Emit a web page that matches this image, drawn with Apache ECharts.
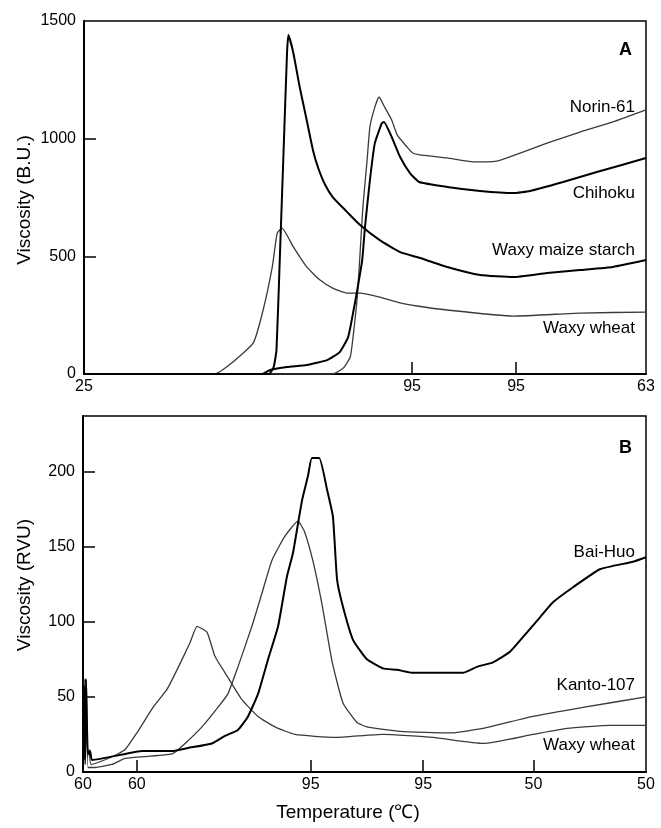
<!DOCTYPE html>
<html>
<head>
<meta charset="utf-8">
<script src="https://cdn.jsdelivr.net/npm/echarts@6/dist/echarts.min.js"></script>
<style>
html,body{margin:0;padding:0;background:#fff;}
#chart{width:661px;height:828px;}
</style>
</head>
<body>
<div id="chart"></div>
<script>
// ---------- Panel A (Brabender, time in min) ----------
const xTickPosA = [0, 46.7, 61.5, 80];
const xTickLabA = ['25', '95', '95', '63'];
const yTickA = [0, 500, 1000, 1500];

const waxyMaizeA = [[0,0],[26.3,0],[27.0,30],[27.4,102],[27.9,514],[28.4,939],[28.9,1364],[29.1,1440],[29.8,1364],[30.7,1220],[31.7,1079],[32.6,950],[33.4,870],[34.3,805],[35.4,752],[37.4,690],[39.3,633],[42.1,569],[45.0,518],[47.4,497],[51.7,455],[56.4,421],[61.1,412],[65.9,429],[70.6,442],[75.3,455],[80,484]];
const waxyWheatA = [[0,0],[18.6,0],[21.2,51],[24.1,132],[25.5,272],[26.8,455],[27.5,599],[28.2,620],[29.8,540],[31.7,455],[33.6,399],[35.4,365],[37.4,344],[39.3,344],[42.1,327],[45.0,302],[47.4,289],[51.7,272],[61.1,246],[70.6,259],[80,263]];
const norin61A = [[0,0],[35.4,0],[36.9,25],[37.9,72],[38.3,157],[38.9,327],[39.3,514],[39.7,710],[40.3,909],[40.7,1050],[41.4,1134],[42.0,1177],[42.8,1134],[43.8,1079],[44.6,1015],[46.0,964],[46.8,939],[47.8,931],[51.7,918],[55.4,901],[58.8,905],[60.2,918],[65.9,981],[70.6,1028],[75.3,1071],[80,1122]];
const chihokuA = [[0,0],[25.3,0],[26.5,17],[28.9,30],[31.7,38],[34.6,59],[36.4,93],[37.6,157],[38.3,259],[38.9,357],[39.6,484],[40.0,625],[40.7,824],[41.4,981],[42.4,1066],[42.7,1071],[43.8,1007],[45.0,922],[46.4,854],[47.7,816],[51.7,795],[56.4,778],[61.1,769],[63.5,778],[68.2,816],[73.0,858],[80,918]];

// ---------- Panel B (RVA, time in min) ----------
const xTickPosB = [0, 2.2, 9.3, 13.9, 18.4, 23];
const xTickLabB = ['60', '60', '95', '95', '50', '50'];
const yTickB = [0, 50, 100, 150, 200];

const baiHuoB = [[0,0],[0.04,58],[0.08,8],[0.12,62],[0.2,12],[0.29,14],[0.37,8],[1.72,12],[2.41,14],[3.64,14],[4.29,16],[5.27,19],[5.80,24],[6.33,28],[6.74,37],[7.15,52],[7.56,75],[7.97,97],[8.33,130],[8.58,146],[8.95,181],[9.19,197],[9.35,209],[9.65,209],[9.97,188],[10.21,170],[10.38,128],[10.62,110],[11.03,88],[11.60,75],[12.25,69],[12.83,68],[13.48,66],[14.30,66],[15.52,66],[16.09,70],[16.75,73],[17.44,80],[18.14,93],[18.67,103],[19.20,113],[20.02,123],[21.12,135],[22.47,140],[23,143]];
const kanto107B = [[0,0],[0.06,55],[0.1,5],[0.14,60],[0.2,3],[0.41,3],[1.18,5],[1.72,9],[3.64,12],[4.17,19],[4.86,30],[5.51,43],[5.92,52],[6.33,70],[6.90,97],[7.31,119],[7.72,141],[8.25,157],[8.78,167],[9.05,160],[9.40,140],[9.76,112],[10.17,74],[10.62,46],[11.19,33],[11.60,30],[12.95,27],[14.99,26],[16.34,29],[18.38,37],[20.42,43],[23,50]];
const waxyWheatB = [[0,0],[0.05,62],[0.09,5],[0.13,55],[0.18,10],[0.25,15],[0.33,5],[1.18,10],[1.72,15],[2.2,26],[2.86,43],[3.43,55],[3.84,68],[4.37,86],[4.66,97],[5.07,93],[5.39,77],[5.92,63],[6.50,48],[7.15,37],[7.84,30],[8.66,25],[10.29,23],[12.25,25],[14.30,23],[16.34,19],[18.38,25],[19.77,29],[21.53,31],[23,31]];

const FONT = '"Liberation Sans", Arial, Helvetica, sans-serif';
const BLACK = '#000';
const GRAY = '#3a3a3a';

function labelFor(pos, labs) {
  return function (v) {
    let best = 0, d = Infinity;
    pos.forEach((p, i) => { const dd = Math.abs(p - v); if (dd < d) { d = dd; best = i; } });
    return labs[best];
  };
}

function xAxisCfg(gridIndex, pos, labs, max) {
  return {
    type: 'value', gridIndex: gridIndex, min: 0, max: max,
    axisLine: { show: true, onZero: false, lineStyle: { color: BLACK, width: 2 } },
    axisTick: { show: true, inside: true, length: 12, customValues: pos.slice(1, -1), lineStyle: { color: BLACK, width: 1.5 } },
    axisLabel: { show: true, customValues: pos, formatter: labelFor(pos, labs), color: '#000', fontSize: 16, fontFamily: FONT, margin: 5, showMinLabel: true, showMaxLabel: true },
    splitLine: { show: false }
  };
}
function yAxisCfg(gridIndex, ticks, max) {
  return {
    type: 'value', gridIndex: gridIndex, min: 0, max: max,
    axisLine: { show: true, lineStyle: { color: BLACK, width: 2 } },
    axisTick: { show: true, inside: true, length: 12, customValues: ticks.slice(1).filter(v => v < max), lineStyle: { color: BLACK, width: 1.5 } },
    axisLabel: { show: true, customValues: ticks, formatter: v => String(v), color: '#000', fontSize: 16, fontFamily: FONT, margin: 8, showMinLabel: true, showMaxLabel: true },
    splitLine: { show: false }
  };
}
function line(name, data, xi, black) {
  return {
    name: name, type: 'line', xAxisIndex: xi, yAxisIndex: xi, data: data,
    showSymbol: false, symbol: 'none', smooth: 0.15, animation: false,
    lineStyle: { color: black ? BLACK : GRAY, width: black ? 2 : 1.3 }
  };
}
function txt(x, y, s, opts) {
  return {
    type: 'text', x: x, y: y,
    style: Object.assign({ text: s, fill: '#000', font: '17px ' + FONT, textAlign: 'right', textVerticalAlign: 'middle' }, opts || {})
  };
}

const chart = echarts.init(document.getElementById('chart'), null, { renderer: 'canvas' });
const g = [
  txt(25, 200, 'Viscosity (B.U.)', { textAlign: 'center', font: '19px ' + FONT }),
  txt(25, 585, 'Viscosity (RVU)', { textAlign: 'center', font: '19px ' + FONT }),
  txt(348, 813, 'Temperature (℃)', { textAlign: 'center', font: '19px ' + FONT }),
  txt(632, 50, 'A', { font: 'bold 18px ' + FONT }),
  txt(632, 448, 'B', { font: 'bold 18px ' + FONT }),
  txt(635, 107, 'Norin-61'),
  txt(635, 193, 'Chihoku'),
  txt(635, 250, 'Waxy maize starch'),
  txt(635, 328, 'Waxy wheat'),
  txt(635, 552, 'Bai-Huo'),
  txt(635, 685, 'Kanto-107'),
  txt(635, 745, 'Waxy wheat')
];
g[0].rotation = Math.PI / 2;
g[1].rotation = Math.PI / 2;

chart.setOption({
  backgroundColor: '#fff',
  animation: false,
  grid: [
    { left: 84, top: 21, width: 562, height: 353, show: true, borderColor: BLACK, borderWidth: 1.5, backgroundColor: 'transparent' },
    { left: 83, top: 416, width: 563, height: 356, show: true, borderColor: BLACK, borderWidth: 1.5, backgroundColor: 'transparent' }
  ],
  xAxis: [xAxisCfg(0, xTickPosA, xTickLabA, 80), xAxisCfg(1, xTickPosB, xTickLabB, 23)],
  yAxis: [yAxisCfg(0, yTickA, 1500), yAxisCfg(1, yTickB, 237)],
  series: [
    line('Waxy wheat', waxyWheatA, 0, false),
    line('Norin-61', norin61A, 0, false),
    line('Waxy maize starch', waxyMaizeA, 0, true),
    line('Chihoku', chihokuA, 0, true),
    line('Waxy wheat', waxyWheatB, 1, false),
    line('Kanto-107', kanto107B, 1, false),
    line('Bai-Huo', baiHuoB, 1, true)
  ],
  graphic: g
});
</script>
</body>
</html>
